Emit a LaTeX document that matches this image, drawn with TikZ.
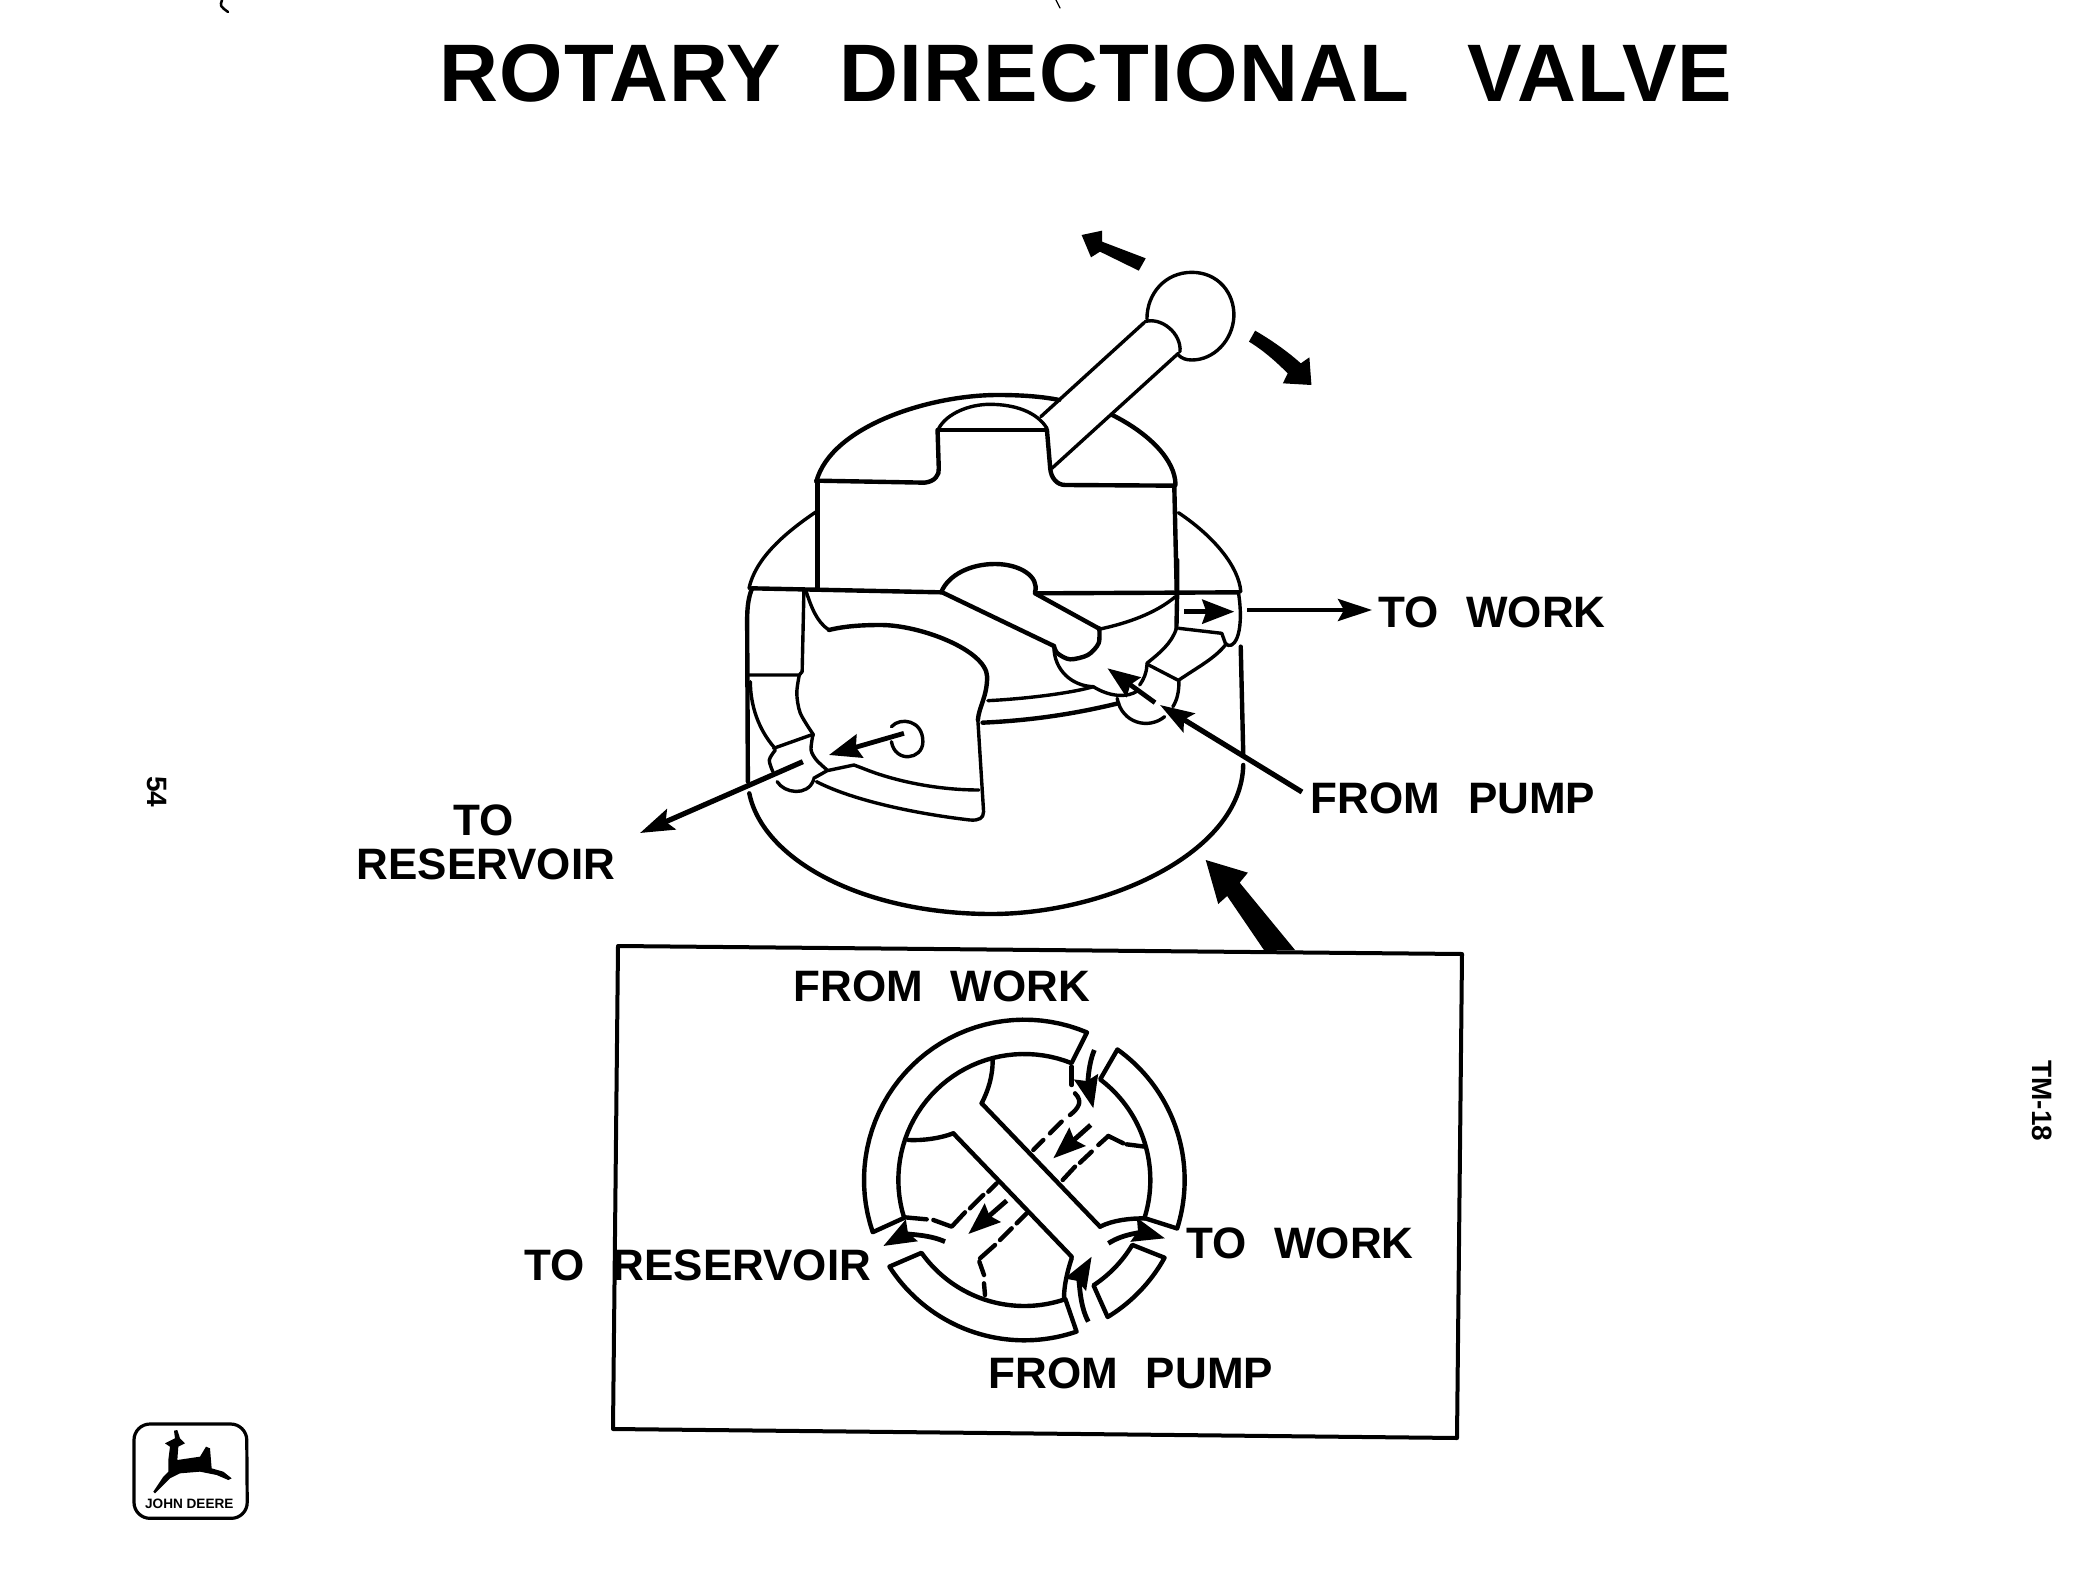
\documentclass[tikz,border=0pt]{standalone}
\usepackage{fontspec}
\setmainfont{Liberation Sans}
\usetikzlibrary{arrows.meta}
\newcommand{\crv}[2][ln]{\draw[#1] plot[smooth] coordinates {#2};}
\newcommand{\ringseg}[4]{\draw[lnh] plot[domain=#1:#2,samples=40] ({553+481*cos(\x)},{510+481*sin(\x)}) -- plot[domain=#4:#3,samples=40] ({553+378*cos(\x)},{510+378*sin(\x)}) -- cycle;}
\tikzset{
  ln/.style={line width=1.7pt,line cap=round,line join=round,black},
  lnh/.style={line width=2.2pt,line cap=round,line join=round,black},
  lnt/.style={line width=1.25pt,line cap=round,line join=round,black},
  lead/.style={line width=2.2pt,black,-{Stealth[length=17pt,width=11pt,inset=3pt]}},
  smar/.style={line width=2.4pt,black,-{Stealth[length=16pt,width=12pt,inset=2pt]}},
  lbl/.style={font=\bfseries\fontsize{22}{24}\selectfont,black,inner sep=0pt},
  zone/.style={shift={(700,220)},xscale=0.40816,yscale=0.33333},
  ztwo/.style={shift={(720,560)},xscale=0.35714,yscale=0.33333},
  zthree/.style={shift={(840,1010)},xscale=0.33333,yscale=0.33333},
  zfour/.style={shift={(120,1410)},xscale=0.33333,yscale=0.33333},
}
\begin{document}
\begin{tikzpicture}[x=0.5pt,y=-0.5pt]
\useasboundingbox (0,0) rectangle (2098,1583);
\fill[white] (0,0) rectangle (2098,1583);
% title
\node[inner sep=0pt,font=\bfseries\fontsize{40.8}{44}\selectfont] (title) at (1086,73) {\addfontfeature{LetterSpace=1.5}ROTARY\hspace{0.42em} DIRECTIONAL\hspace{0.42em} VALVE};
% specks at the top edge
\draw[lnt] (222,0) .. controls (220,6) .. (228,12);
\draw[lnt,line width=.6pt] (1056,0) -- (1060,8);
% upper part of the valve
\begin{scope}[zone]
  \draw[ln] (1095,297) .. controls (1095,220) and (1140,157) .. (1205,157) .. controls (1270,157) and (1310,220) .. (1308,290) .. controls (1305,360) and (1260,420) .. (1205,420) .. controls (1190,420) and (1180,415) .. (1172,405);
  \draw[ln] (1090,305) .. controls (1130,290) and (1180,340) .. (1176,395);
  \draw[ln] (1088,308) -- (835,590);
  \draw[ln] (1172,400) -- (862,745);
  \draw[lnh] (285,785) .. controls (320,620) and (560,525) .. (730,525) .. controls (790,525) and (840,530) .. (880,540);
  \draw[lnh] (1010,585) .. controls (1100,640) and (1165,720) .. (1165,795);
  \draw[ln] (585,625) .. controls (605,580) and (660,553) .. (710,553) .. controls (770,553) and (825,575) .. (850,625);
  \draw[lnh] (585,630) -- (850,630);
  \draw[lnh] (285,782) -- (550,788) .. controls (575,785) and (587,765) .. (585,745) -- (582,630);
  \draw[lnh] (850,630) -- (858,745) .. controls (860,775) and (875,795) .. (895,795) -- (1162,797);
  \draw[lnh] (288,785) -- (288,1105);
  \draw[lnh] (1162,797) -- (1168,1115);
  \draw[ln] (285,875) .. controls (200,945) and (135,1020) .. (120,1105);
  \draw[ln] (1172,878) .. controls (1260,950) and (1320,1040) .. (1325,1115);
\end{scope}
% lower part of the valve
\begin{scope}[ztwo]
  \draw[lnh] (90,85) -- (620,97);
  \draw[lnh] (885,100) -- (1452,97);
  \draw[lnh] (620,95) .. controls (640,45) and (700,12) .. (770,12) .. controls (840,12) and (895,50) .. (882,97);
  \draw[lnh] (622,97) -- (935,258);
  \draw[lnh] (882,100) -- (1060,205);
  \crv[lnh]{(1062,205)(1060,250)(1030,285)(980,298)(945,280)(935,258)}
  \draw[ln] (935,260) .. controls (935,330) and (985,378) .. (1045,380);
  \draw[ln] (1060,208) .. controls (1140,190) and (1220,160) .. (1275,110);
  \draw[ln] (1045,380) .. controls (1000,395) and (880,415) .. (750,422);
  \draw[lnh] (1115,430) .. controls (980,465) and (860,482) .. (735,488);
  \draw[ln] (1045,380) .. controls (1090,410) and (1140,415) .. (1170,392);
  \draw[ln] (1112,415) .. controls (1125,490) and (1200,510) .. (1245,470);
  % right hand side
  \draw[lnh] (1280,0) -- (1280,100) -- (1278,205);
  \draw[ln] (1285,205) -- (1405,220) -- (1415,250);
  \draw[ln] (1415,250) .. controls (1435,275) and (1470,230) .. (1452,100);
  \draw[ln] (1278,205) .. controls (1265,250) and (1230,280) .. (1195,310);
  \draw[ln] (1195,312) -- (1285,362);
  \draw[ln] (1195,315) .. controls (1195,340) and (1185,360) .. (1175,375);
  \draw[ln] (1285,360) .. controls (1340,320) and (1385,295) .. (1415,255);
  \draw[ln] (1285,365) .. controls (1285,395) and (1280,420) .. (1268,440);
  \draw[lnh] (1458,260) -- (1465,580);
  % left hand side
  \draw[lnh] (90,85) .. controls (80,110) and (76,140) .. (76,180) -- (78,665);
  \draw[ln] (235,90) -- (230,335) -- (222,345) -- (82,345);
  \crv{(222,345)(215,400)(225,460)(262,525)}
  \draw[ln] (85,365) .. controls (85,440) and (110,510) .. (150,560);
  \draw[ln] (150,565) -- (255,525);
  \crv{(155,570)(138,600)(148,635)}
  \draw[ln] (160,665) .. controls (180,700) and (245,710) .. (262,660);
  \crv{(260,525)(255,570)(270,600)(300,630)}
  \draw[ln] (262,655) -- (300,632) -- (375,615) -- (400,625) .. controls (480,660) and (600,690) .. (725,690);
  \draw[ln] (270,665) .. controls (370,720) and (540,760) .. (700,780) .. controls (725,782) and (738,775) .. (738,755) -- (722,480);
  \draw[lnh] (722,480) .. controls (725,440) and (748,410) .. (748,350) .. controls (745,270) and (560,195) .. (450,195) .. controls (400,195) and (350,198) .. (305,210);
  \draw[ln] (305,210) .. controls (270,185) and (255,140) .. (240,90);
  % port
  \draw[ln] (480,500) .. controls (505,470) and (568,480) .. (568,545) .. controls (568,600) and (490,610) .. (480,545);
  % base
  \draw[lnh] (82,700) .. controls (120,900) and (400,1062) .. (760,1062) .. controls (1080,1062) and (1460,880) .. (1465,615);
  % internal arrows
  \coordinate (resA) at (515,520); \coordinate (resB) at (305,585);
  \coordinate (wkA) at (1300,155); \coordinate (wkB) at (1440,155);
  \coordinate (pmA) at (1218,428); \coordinate (pmB) at (1085,325);
  \draw[smar] (resA) -- (resB);
  \draw[smar] (wkA) -- (wkB);
  \draw[smar] (pmA) -- (pmB);
  % heavy arrow from box
  \fill (1360,900) -- (1478,938) -- (1455,968) -- (1610,1170) -- (1523,1170) -- (1420,1008) -- (1395,1032) -- cycle;
  \coordinate (fpTip) at (1232,435);
  \coordinate (rsStart) at (232,605);
\end{scope}
% heavy motion arrows
\begin{scope}[zone]
  \fill (1092,115) -- (1075,152) -- (980,95) -- (958,112) -- (935,45) -- (985,32) -- (985,65) -- cycle;
  \fill (1360,332) -- (1345,365) .. controls (1385,395) and (1415,430) .. (1440,460) -- (1428,490) -- (1498,495) -- (1493,412) -- (1472,430) .. controls (1440,395) and (1400,360) .. (1360,332) -- cycle;
\end{scope}
% labels with leaders
\node[lbl] (towork) at (1492,612) {TO\hspace{0.35em} WORK};
\node[lbl] (frompump) at (1453,798) {FROM\hspace{0.35em} PUMP};
\node[lbl] (to) at (484,820) {TO};
\node[lbl] (reservoir) at (486,864) {RESERVOIR};
\coordinate (twS) at (1247,610); \coordinate (twE) at (1372,610);
\coordinate (fpS) at (1302,792);
\coordinate (rsE) at (640,833);
\draw[lead] (twS) -- (twE);
\draw[lead,line width=2.6pt] (fpS) -- (fpTip);
\draw[lead,line width=2.6pt] (rsStart) -- (rsE);
% box
\draw[line width=2pt,line join=round] (618,946) -- (1462,954) -- (1457,1438) -- (613,1429) -- cycle;
\node[lbl] (fromwork) at (942,986) {FROM\hspace{0.35em} WORK};
\node[lbl] (toreservoir) at (698,1265) {TO\hspace{0.35em} RESERVOIR};
\node[lbl] (toworkb) at (1300,1243) {TO\hspace{0.35em} WORK};
\node[lbl] (frompumpb) at (1131,1373) {FROM\hspace{0.35em} PUMP};
% section view
\begin{scope}[zthree]
  \ringseg{161}{293}{162.5}{292}
  \ringseg{-54.5}{17.6}{-53}{17.6}
  \ringseg{29}{58.7}{31}{56.7}
  \ringseg{71}{147.3}{71}{144.7}
  % rotor
  \draw[lnh] (425,280) -- (780,650);
  \draw[lnh] (780,650) .. controls (820,630) and (870,625) .. (915,625);
  \draw[lnh] (425,280) .. controls (445,240) and (458,200) .. (458,150);
  \draw[lnh] (340,370) -- (695,740);
  \draw[lnh] (340,370) .. controls (300,385) and (250,392) .. (205,390);
  \draw[lnh] (695,745) .. controls (680,790) and (672,830) .. (672,865);
  % dashed passages
  \draw[lnh] (695,170) -- (695,225);
  \draw[lnh] (705,250) .. controls (730,275) and (715,295) .. (690,315);
  \draw[lnh] (665,335) -- (630,370);
  \draw[lnh] (610,390) -- (580,420);
  \draw[lnh] (755,425) -- (720,458);
  \draw[lnh] (705,470) -- (668,510);
  \draw[lnh] (805,378) -- (775,405);
  \draw[lnh] (805,378) -- (850,400);
  \draw[lnh] (860,403) -- (915,410);
  \draw[lnh] (470,520) -- (445,545);
  \draw[lnh] (430,555) -- (390,595);
  \draw[lnh] (375,607) -- (335,650) -- (280,630);
  \draw[lnh] (260,628) -- (195,622);
  \draw[lnh] (560,610) -- (530,640);
  \draw[lnh] (515,655) -- (480,690);
  \draw[lnh] (465,705) -- (420,745);
  \draw[lnh] (418,755) -- (432,795);
  \draw[lnh] (432,820) -- (435,855);
  % flow arrows
  \draw[smar] (763,120) .. controls (742,170) and (745,230) .. (760,295);
  \draw[smar] (752,345) -- (640,445);
  \draw[smar] (500,572) -- (385,672);
  \draw[smar] (315,695) .. controls (260,670) and (190,675) .. (130,708);
  \draw[smar] (805,700) .. controls (860,665) and (920,670) .. (975,685);
  \draw[smar] (745,935) .. controls (715,880) and (720,800) .. (755,740);
\end{scope}
% margin texts
\node[inner sep=0pt,rotate=-90,font=\bfseries\fontsize{14}{16}\selectfont] (pageno) at (157,792) {54};
\node[inner sep=0pt,rotate=-90,font=\bfseries\fontsize{14}{16}\selectfont] (tmno) at (2042,1101) {TM-18};
% logo
\begin{scope}[zfour]
  \draw[line width=1.6pt,rounded corners=8pt] (42,42) -- (380,42) -- (382,325) -- (42,325) -- cycle;
  \fill (135,100) -- (165,85) -- (162,62) -- (172,60) -- (180,85) -- (195,100) -- (175,110) -- (172,150) -- (240,140) -- (258,110) -- (270,115) -- (275,175) -- (310,185) -- (335,205) -- (325,210) -- (290,195) -- (240,185) -- (180,190) -- (150,205) -- (105,250) -- (100,245) -- (130,200) -- (145,185) -- (145,150) -- (150,110) -- cycle;
  \node[inner sep=0pt,font=\bfseries\fontsize{6.8}{7}\selectfont] (jd) at (208,282) {JOHN DEERE};
\end{scope}
\end{tikzpicture}
\end{document}
